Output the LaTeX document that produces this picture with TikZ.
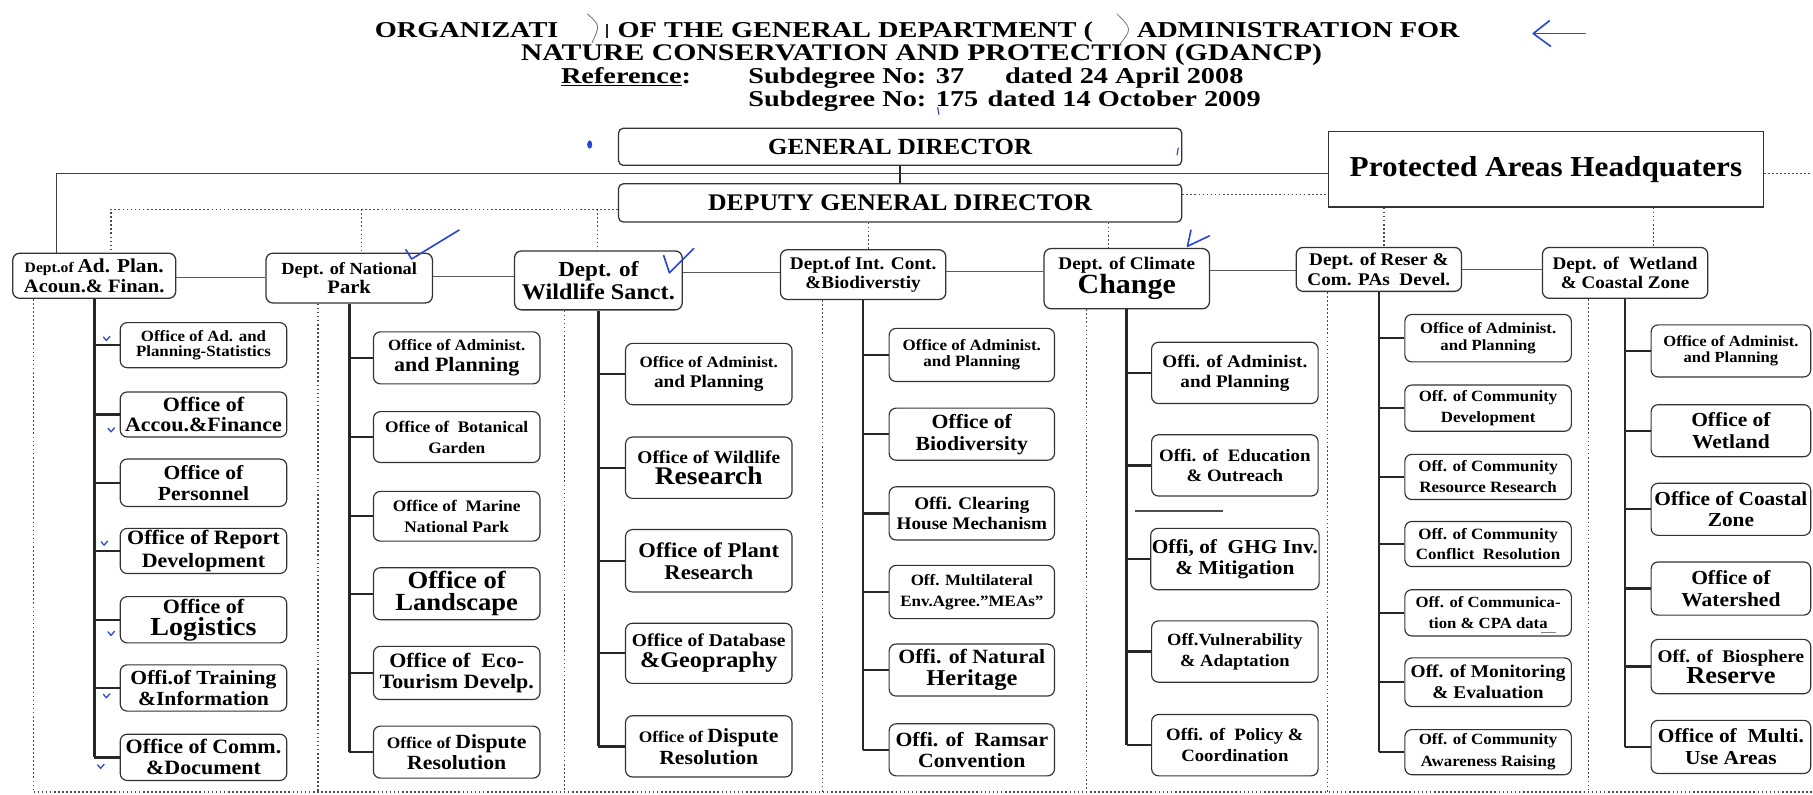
\documentclass[tikz,border=0pt]{standalone}
\usepackage{fontspec}
\setmainfont{Liberation Serif}[FakeStretch=1.08]
\newfontfamily\titlefont{Liberation Serif}[FakeStretch=1.25]
\definecolor{pen}{RGB}{40,70,215}
\newcommand\fq[1]{\fontsize{#1}{17}\selectfont}
\newcommand\office[7]{\node[office,minimum width=#3,minimum height={#5-#4},#6] (#1) at (#2,{(#4+#5)/2}) {#7};}
\begin{document}
\begin{tikzpicture}[x=1pt,y=-1pt,font=\bfseries,
  boxbase/.style={draw=black!80,fill=white,align=center,inner sep=1pt},
  dept/.style={boxbase,line width=1.1pt,rounded corners=6pt,font=\bfseries\fontsize{15}{17}\selectfont},
  office/.style={boxbase,line width=1pt,rounded corners=6pt,font=\bfseries\fontsize{15}{17.5}\selectfont},
  lsk/.style={font=\bfseries\fontsize{15}{#1}\selectfont},
  topbox/.style={boxbase,line width=1.1pt,rounded corners=4pt},
  ttl/.style={inner sep=0pt,font=\titlefont\bfseries\fontsize{19.6}{19.6}\selectfont},
  trunk/.style={line width=2.3pt,black!85},
  branch/.style={line width=2pt,black!85},
  link/.style={line width=1pt,black!65},
  topline/.style={line width=1.2pt,black!75},
  dots/.style={line width=1pt,black!70,dash pattern=on 1.5pt off 2pt},
  penl/.style={draw=pen,line width=1.4pt,line cap=round,line join=round}]
\path[fill=white,use as bounding box] (0,0) rectangle (1568,687);

% ---------- title ----------
\node[ttl,anchor=base west] (t1a) at (324,32.5) {ORGANIZATI};
\node[ttl,anchor=base west] (t1b) at (534,32.5) {OF THE GENERAL DEPARTMENT (};
\node[ttl,anchor=base west] (t1c) at (983,32.5) {ADMINISTRATION FOR};
\node[ttl,anchor=base,font=\titlefont\bfseries\fontsize{20.6}{20.6}\selectfont] (t2) at (797,52.5) {NATURE CONSERVATION AND PROTECTION (GDANCP)};
\node[ttl,anchor=base west] (t3a) at (485,72) {\underline{Reference}:};
\node[ttl,anchor=base west] (t3b) at (647,72) {Subdegree No: 37};
\node[ttl,anchor=base west] (t3c) at (869,72) {dated 24 April 2008};
\node[ttl,anchor=base west] (t4a) at (647,92) {Subdegree No: 175};
\node[ttl,anchor=base west] (t4b) at (854,92) {dated 14 October 2009};
% scan blotches in title
\draw[black!55,line width=0.7pt] (508,12) .. controls (519,22) .. (512,37);
\draw[black!85,line width=1.6pt] (525,21) -- (525,33);
\draw[black!55,line width=0.7pt] (966,12) .. controls (979,25) .. (968,39);

% ---------- top boxes ----------
\node[topbox,minimum width=487,minimum height=32,font=\bfseries\fontsize{20}{20}\selectfont] (gd) at (778.5,127) {GENERAL DIRECTOR};
\node[topbox,minimum width=487,minimum height=33,font=\bfseries\fontsize{20.6}{20.6}\selectfont] (dgd) at (778.5,175.5) {DEPUTY GENERAL DIRECTOR};
\node[boxbase,line width=1.1pt,minimum width=376,minimum height=65,font=\bfseries\fontsize{25}{25}\selectfont] (pa) at (1337,146.5) {Protected Areas Headquaters};

% ---------- departments ----------
\node[dept,minimum width=141,minimum height=39] (adp) at (81.5,238.5) {{\fq{12.5}Dept.of }{\fq{17}Ad. Plan.}\\{\fq{16.4}Acoun.\& Finan.}};
\node[dept,minimum width=144,minimum height=43] (np) at (302,240.5) {{\fq{14.7}Dept. of National}\\{\fq{16.5}Park}};
\node[dept,minimum width=145,minimum height=51,lsk=20] (wl) at (517.5,242.5) {{\fq{18.5}Dept. of}\\{\fq{19.4}Wildlife Sanct.}};
\node[dept,minimum width=143,minimum height=43] (ic) at (746.5,237.5) {{\fq{15.4}Dept.of Int. Cont.}\\{\fq{15.4}\&Biodiverstiy}};
\node[dept,minimum width=143,minimum height=52,lsk=18] (cc) at (974.5,241) {{\fq{15.4}Dept. of Climate}\\{\fq{24}Change}};
\node[dept,minimum width=143,minimum height=38] (rs) at (1192.5,233) {{\fq{15.4}Dept. of Reser \&}\\{\fq{15.4}Com. PAs\ \ Devel.}};
\node[dept,minimum width=143,minimum height=44] (wt) at (1405.5,236) {{\fq{15.3}Dept. of\ \ Wetland}\\{\fq{15.3}\& Coastal Zone}};

% ---------- offices ----------
\office{a1}{176}{144}{279}{318}{lsk=13.5}{{\fq{13.5}Office of Ad. and}\\{\fq{13.5}Planning-Statistics}}
\office{a2}{176}{144}{339}{378}{lsk=18}{{\fq{17.6}Office of}\\{\fq{17.6}Accou.\&Finance}}
\office{a3}{176}{144}{397}{438}{lsk=18}{{\fq{17.3}Office of}\\{\fq{17.3}Personnel}}
\office{a4}{176}{144}{457}{496}{lsk=19.5}{{\fq{17.6}Office of Report}\\{\fq{17.6}Development}}
\office{a5}{176}{144}{516}{556}{lsk=19}{{\fq{17.6}Office of}\\{\fq{22.5}Logistics}}
\office{a6}{176}{144}{575}{615}{lsk=18}{{\fq{17.3}Offi.of Training}\\{\fq{17.3}\&Information}}
\office{a7}{176}{144}{635}{675}{lsk=18}{{\fq{17.6}Office of Comm.}\\{\fq{17.6}\&Document}}

\office{b1}{395}{144}{287}{332}{}{{\fq{13.5}Office of Administ.}\\{\fq{17.6}and Planning}}
\office{b2}{395}{144}{356}{400}{lsk=18}{{\fq{13.9}Office of\ \ Botanical}\\{\fq{13.9}Garden}}
\office{b3}{395}{144}{425}{468}{lsk=18}{{\fq{13.9}Office of\ \ Marine}\\{\fq{13.9}National Park}}
\office{b4}{395}{144}{491}{536}{lsk=19}{{\fq{21.3}Office of}\\{\fq{21.3}Landscape}}
\office{b5}{395}{144}{559}{605}{lsk=18}{{\fq{17.6}Office of\ \ Eco-}\\{\fq{17.6}Tourism Develp.}}
\office{b6}{395}{144}{628}{673}{lsk=18}{{\fq{13.9}Office of }{\fq{17.4}Dispute}\\{\fq{17.4}Resolution}}

\office{c1}{613}{144}{297}{350}{}{{\fq{13.6}Office of Administ.}\\{\fq{15.4}and Planning}}
\office{c2}{613}{144}{378}{431}{lsk=18}{{\fq{15.5}Office of Wildlife}\\{\fq{22}Research}}
\office{c3}{613}{144}{458}{512}{lsk=19}{{\fq{18.1}Office of Plant}\\{\fq{18.1}Research}}
\office{c4}{613}{144}{539}{591}{lsk=18}{{\fq{15.6}Office of Database}\\{\fq{19.4}\&Geopraphy}}
\office{c5}{613}{144}{619}{672}{lsk=19}{{\fq{13.9}Office of }{\fq{17.4}Dispute}\\{\fq{17.4}Resolution}}

\office{d1}{840.5}{143}{284}{330}{lsk=14}{{\fq{13.6}Office of Administ.}\\{\fq{13.6}and Planning}}
\office{d2}{840.5}{143}{353}{398}{lsk=19}{{\fq{17.4}Office of}\\{\fq{17.4}Biodiversity}}
\office{d3}{840.5}{143}{421}{467}{lsk=18}{{\fq{15.3}Offi. Clearing}\\{\fq{15.3}House Mechanism}}
\office{d4}{840.5}{143}{489}{535}{lsk=18}{{\fq{13.6}Off. Multilateral}\\{\fq{13.6}Env.Agree."MEAs"}}
\office{d5}{840.5}{143}{557}{602}{lsk=18.5}{{\fq{17.5}Offi. of Natural}\\{\fq{19.6}Heritage}}
\office{d6}{840.5}{143}{626}{671}{lsk=18.5}{{\fq{17.4}Offi. of\ \ Ramsar}\\{\fq{17.4}Convention}}

\office{e1}{1068}{144}{296}{349}{}{{\fq{15.3}Offi. of Administ.}\\{\fq{15.3}and Planning}}
\office{e2}{1068}{144}{376}{429}{lsk=18}{{\fq{15.1}Offi. of\ \ Education}\\{\fq{15.1}\& Outreach}}
\office{e3}{1068}{144}{457}{510}{lsk=18.5}{{\fq{17.1}Offi, of\ \ GHG Inv.}\\{\fq{17.1}\& Mitigation}}
\office{e4}{1068}{144}{537}{590}{lsk=18}{{\fq{14.8}Off.Vulnerability}\\{\fq{14.8}\& Adaptation}}
\office{e5}{1068}{144}{618}{671}{lsk=18}{{\fq{15}Offi. of\ \ Policy \&}\\{\fq{15}Coordination}}

\office{f1}{1287}{144}{272}{313}{lsk=14}{{\fq{13.4}Office of Administ.}\\{\fq{13.4}and Planning}}
\office{f2}{1287}{144}{333}{373}{lsk=18}{{\fq{13.5}Off. of Community}\\{\fq{13.5}Development}}
\office{f3}{1287}{144}{393}{432}{lsk=18}{{\fq{13.6}Off. of Community}\\{\fq{13.6}Resource Research}}
\office{f4}{1287}{144}{451}{490}{lsk=18}{{\fq{13.6}Off. of Community}\\{\fq{13.6}Conflict\ \ Resolution}}
\office{f5}{1287}{144}{510}{550}{lsk=18}{{\fq{13.4}Off. of Communica-}\\{\fq{13.4}tion \& CPA data}}
\office{f6}{1287}{144}{569}{611}{lsk=18}{{\fq{15.5}Off. of Monitoring}\\{\fq{15.5}\& Evaluation}}
\office{f7}{1287}{144}{631}{670}{lsk=19}{{\fq{13.5}Off. of Community}\\{\fq{13.5}Awareness Raising}}

\office{g1}{1497}{138}{281}{326}{lsk=14}{{\fq{13.3}Office of Administ.}\\{\fq{13.3}and Planning}}
\office{g2}{1497}{138}{350}{395}{lsk=19}{{\fq{17.2}Office of}\\{\fq{17.2}Wetland}}
\office{g3}{1497}{138}{418}{463}{lsk=18.5}{{\fq{17.1}Office of Coastal}\\{\fq{17.1}Zone}}
\office{g4}{1497}{138}{486}{532}{lsk=19}{{\fq{17.2}Office of}\\{\fq{17.2}Watershed}}
\office{g5}{1497}{138}{553}{600}{lsk=18}{{\fq{15.4}Off. of\ \ Biosphere}\\{\fq{21.1}Reserve}}
\office{g6}{1497}{138}{623}{669}{lsk=19}{{\fq{17.1}Office of\ \ Multi.}\\{\fq{17.1}Use Areas}}

% ---------- top connectors ----------
\draw[line width=1.5pt,black!85] (gd.south) -- (dgd.north);
\coordinate (tl) at (49,150);
\coordinate (tr) at (1568,150);
\draw[topline] (pa.west|-tl) -- (tl) -- (tl|-adp.north);
\draw[dots] (pa.east|-tl) -- (tr);
\coordinate (v1) at (96,181);
\coordinate (v2) at (313,181);
\coordinate (v3) at (517,181);
\draw[dots] (dgd.west|-v1) -- (v1) -- (v1|-adp.north);
\draw[dots] (v2) -- (v2|-np.north);
\draw[dots] (v3) -- (v3|-wl.north);
\coordinate (vr) at (1022,168);
\draw[dots] (dgd.east|-vr) -- (pa.west|-vr);
\coordinate (v4) at (751,0);
\coordinate (v5) at (959,0);
\coordinate (v6) at (1197,0);
\coordinate (v7) at (1430,0);
\draw[dots] (v4|-dgd.south) -- (v4|-ic.north);
\draw[dots] (v5|-dgd.south) -- (v5|-cc.north);
\draw[dots] (v6|-pa.south) -- (v6|-rs.north);
\draw[dots] (v7|-pa.south) -- (v7|-wt.north);

% ---------- department links ----------
\coordinate (h1) at (0,240);
\coordinate (h2) at (0,239);
\coordinate (h3) at (0,236);
\coordinate (h4) at (0,235);
\coordinate (h5) at (0,234);
\coordinate (h6) at (0,233);
\draw[link] (adp.east|-h1) -- (np.west|-h1);
\draw[link] (np.east|-h2) -- (wl.west|-h2);
\draw[link] (wl.east|-h3) -- (ic.west|-h3);
\draw[link] (ic.east|-h4) -- (cc.west|-h4);
\draw[link] (cc.east|-h5) -- (rs.west|-h5);
\draw[link] (rs.east|-h6) -- (wt.west|-h6);

% ---------- column separators ----------
\coordinate (s1) at (29,685);
\coordinate (s2) at (275,685);
\coordinate (s3) at (488,685);
\coordinate (s4) at (711,685);
\coordinate (s5) at (940,685);
\coordinate (s6) at (1148,685);
\coordinate (s7) at (1374,685);
\coordinate (br) at (1568,685);
\draw[dots] (s1|-adp.south) -- (s1);
\draw[dots] (s2|-np.south) -- (s2);
\draw[dots] (s3|-wl.south) -- (s3);
\draw[dots] (s4|-ic.south) -- (s4);
\draw[dots] (s5|-cc.south) -- (s5);
\draw[dots] (s6|-rs.south) -- (s6);
\draw[dots] (s7|-wt.south) -- (s7);
\draw[dots] (s1) -- (br);

% ---------- trunks and branches ----------
\draw[trunk] (adp.south) -- (adp.south|-a7.west);
\foreach \o in {a1,a2,a3,a4,a5,a6,a7} \draw[branch] (\o.west) -- (adp.south|-\o.west);
\draw[trunk] (np.south) -- (np.south|-b6.west);
\foreach \o in {b1,b2,b3,b4,b5,b6} \draw[branch] (\o.west) -- (np.south|-\o.west);
\draw[trunk] (wl.south) -- (wl.south|-c5.west);
\foreach \o in {c1,c2,c3,c4,c5} \draw[branch] (\o.west) -- (wl.south|-\o.west);
\draw[trunk] (ic.south) -- (ic.south|-d6.west);
\foreach \o in {d1,d2,d3,d4,d5,d6} \draw[branch] (\o.west) -- (ic.south|-\o.west);
\draw[trunk] (cc.south) -- (cc.south|-e5.west);
\foreach \o in {e1,e2,e3,e4,e5} \draw[branch] (\o.west) -- (cc.south|-\o.west);
\draw[trunk] (rs.south) -- (rs.south|-f7.west);
\foreach \o in {f1,f2,f3,f4,f5,f6,f7} \draw[branch] (\o.west) -- (rs.south|-\o.west);
\draw[trunk] (wt.south) -- (wt.south|-g6.west);
\foreach \o in {g1,g2,g3,g4,g5,g6} \draw[branch] (\o.west) -- (wt.south|-\o.west);

% stray printed strokes
\draw[black!70,line width=1pt] (982,442) -- (1058,442);
\draw[black!50,line width=0.7pt] (1333,547) -- (1346,547);

% ---------- blue pen marks ----------
\draw[penl] (1371,29) -- (1327,29);
\draw[penl] (1340,18) .. controls (1333,24) .. (1326,29) .. controls (1333,34) .. (1341,40);
\fill[pen] (510,125) ellipse (2.2 and 3.6);
\draw[penl,line width=1pt] (1019,128) -- (1018,134);
\draw[penl,line width=1pt] (811,93) -- (812,99);
\draw[penl] (351,216) -- (356,224) -- (397,199);
\draw[penl] (574,221) -- (579,236) -- (600,215);
\draw[penl] (1030,199) -- (1027,213) -- (1046,204);
\foreach \px/\py in {92/293,96/372,90/470,96/548,92/602,87/663}
  \draw[penl,line width=1.1pt] (\px-2.5,\py-1.5) -- (\px,\py+1.5) -- (\px+3,\py-2);
\end{tikzpicture}
\end{document}
